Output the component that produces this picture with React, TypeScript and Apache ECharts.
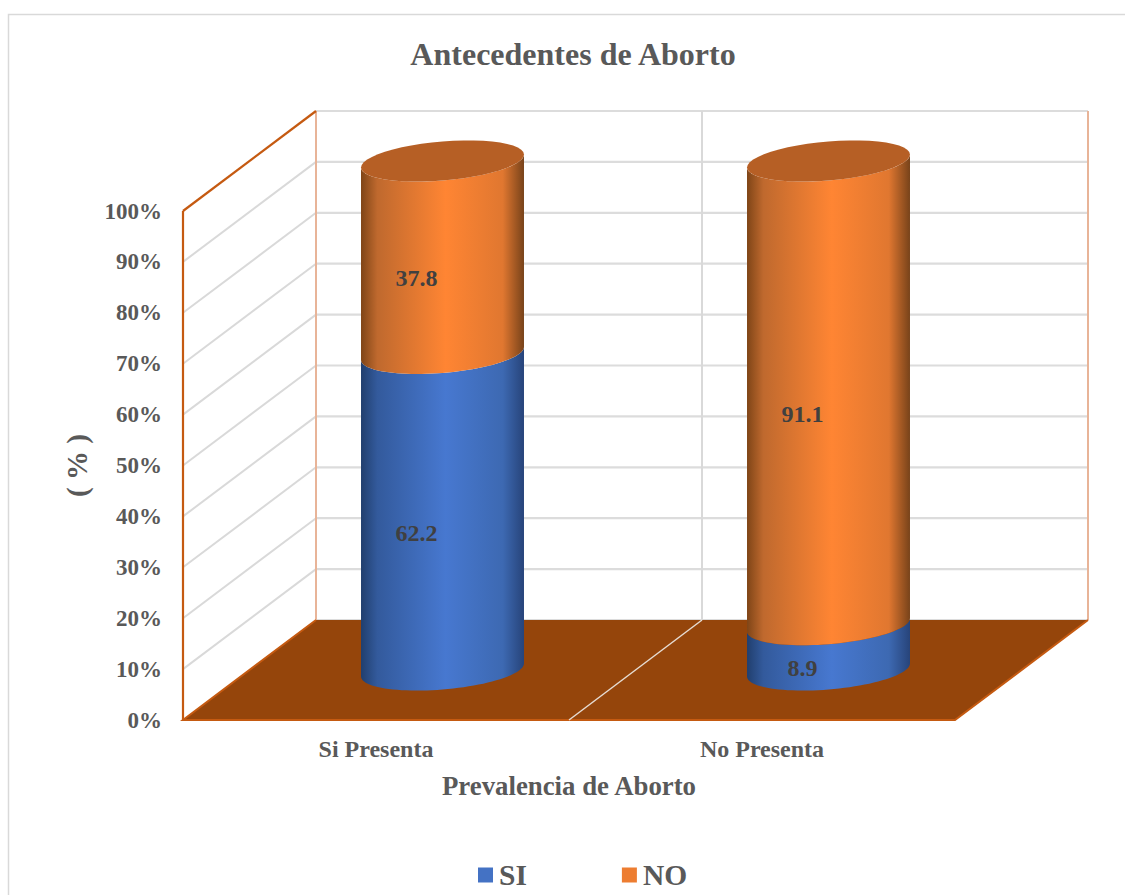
import React, { useEffect, useRef } from "react";
import * as echarts from "echarts";

const categories = ["Si Presenta", "No Presenta"];
const siValues = [62.2, 8.9];
const noValues = [37.8, 91.1];
const yTicks = [0, 10, 20, 30, 40, 50, 60, 70, 80, 90, 100];

const FONT = "Liberation Serif";
const TEXT = "#595959";
const DEPTH_X = 133;
const DEPTH_Y = -100;
const CYL_RATIO = 0.2111;
const RY = 19.5;
const SHEAR = 0.08;

const blueStops = [
  { offset: 0, color: "#213f6e" },
  { offset: 0.1, color: "#335a9c" },
  { offset: 0.52, color: "#4778d0" },
  { offset: 0.87, color: "#3d69b2" },
  { offset: 1, color: "#27447a" },
];
const orangeStops = [
  { offset: 0, color: "#7f4517" },
  { offset: 0.1, color: "#bf692e" },
  { offset: 0.52, color: "#ff8533" },
  { offset: 0.87, color: "#e07730" },
  { offset: 1, color: "#78431a" },
];

const hGrad = (stops: any[]) => new echarts.graphic.LinearGradient(0, 0, 1, 0, stops);

function arc(cx: number, cy: number, rx: number, from: number, to: number) {
  const pts: number[][] = [];
  const n = 48;
  for (let i = 0; i <= n; i++) {
    const t = from + ((to - from) * i) / n;
    pts.push([cx + rx * Math.cos(t), cy - rx * Math.cos(t) * SHEAR + RY * Math.sin(t)]);
  }
  return pts;
}

function segment(api: any, cat: number, lo: number, hi: number, value: number, stops: any[], topFace: boolean) {
  const bw = api.size([1, 0])[0];
  const rx = bw * CYL_RATIO;
  const pLo = api.coord([cat, lo]);
  const pHi = api.coord([cat, hi]);
  const cx = pLo[0] + DEPTH_X / 2;
  const yLo = pLo[1] + DEPTH_Y / 2;
  const yHi = pHi[1] + DEPTH_Y / 2;
  const body = [...arc(cx, yHi, rx, Math.PI, 0), ...arc(cx, yLo, rx, 0, Math.PI)];
  const children: any[] = [
    { type: "polygon", shape: { points: body }, style: { fill: hGrad(stops) } },
  ];
  if (topFace) {
    children.push({
      type: "polygon",
      shape: { points: arc(cx, yHi, rx, 0, Math.PI * 2) },
      style: { fill: "#b65f25" },
    });
  }
  children.push({
    type: "text",
    x: cx - 26,
    y: (yLo + yHi) / 2 + 21,
    z2: 10,
    style: {
      text: value.toFixed(1),
      align: "center",
      verticalAlign: "middle",
      fill: "#404040",
      fontFamily: FONT,
      fontWeight: "bold",
      fontSize: 24,
    },
  });
  return { type: "group", children };
}

function renderGrid(params: any, api: any) {
  const tick = api.value(1);
  const p = api.coord([0, tick]);
  const x0 = params.coordSys.x;
  const x1 = x0 + params.coordSys.width;
  const style = { stroke: "#dcdcdc", lineWidth: 2.2 };
  const children: any[] = [
    {
      type: "line",
      shape: { x1: x0 + DEPTH_X, y1: p[1] + DEPTH_Y, x2: x1 + DEPTH_X, y2: p[1] + DEPTH_Y },
      style,
    },
  ];
  if (tick > 0 && tick < 100) {
    children.push({
      type: "line",
      shape: { x1: x0, y1: p[1], x2: x0 + DEPTH_X, y2: p[1] + DEPTH_Y },
      style: { stroke: "#d9d9d9", lineWidth: 2 },
    });
  }
  return { type: "group", children };
}

function renderFrame(params: any, api: any) {
  const cs = params.coordSys;
  const x0 = cs.x;
  const x1 = cs.x + cs.width;
  const top = cs.y;
  const bot = cs.y + cs.height;
  const mid = (api.coord([0, 0])[0] + api.coord([1, 0])[0]) / 2;
  const edge = { stroke: "#c55a11", lineWidth: 2.2 };
  const soft = { stroke: "#e8b498", lineWidth: 2 };
  return {
    type: "group",
    children: [
      { type: "line", shape: { x1: mid + DEPTH_X, y1: top + DEPTH_Y, x2: mid + DEPTH_X, y2: bot + DEPTH_Y }, style: { stroke: "#d9d9d9", lineWidth: 2 } },
      { type: "line", shape: { x1: x0 + DEPTH_X, y1: top + DEPTH_Y, x2: x0 + DEPTH_X, y2: bot + DEPTH_Y }, style: soft },
      { type: "line", shape: { x1: x1 + DEPTH_X, y1: top + DEPTH_Y, x2: x1 + DEPTH_X, y2: bot + DEPTH_Y }, style: soft },
      {
        type: "polygon",
        shape: { points: [[x0, bot], [x0 + DEPTH_X, bot + DEPTH_Y], [x1 + DEPTH_X, bot + DEPTH_Y], [x1, bot]] },
        style: { fill: "#95450b" },
      },
      { type: "polyline", shape: { points: [[x0 + DEPTH_X, bot + DEPTH_Y], [x0, bot], [x1, bot], [x1 + DEPTH_X, bot + DEPTH_Y]] }, style: { stroke: "#c55a11", lineWidth: 2, fill: "none" } },
      { type: "line", shape: { x1: mid + DEPTH_X, y1: bot + DEPTH_Y, x2: mid, y2: bot }, style: { stroke: "#e6dcd3", lineWidth: 1.5 } },
      { type: "line", shape: { x1: x0, y1: top, x2: x0, y2: bot }, style: edge },
      { type: "line", shape: { x1: x0, y1: top, x2: x0 + DEPTH_X, y2: top + DEPTH_Y }, style: edge },
    ],
  };
}

export default function App() {
  const ref = useRef<HTMLDivElement>(null);
  useEffect(() => {
    document.body.style.margin = "0";
    const chart = echarts.init(ref.current!, null, { renderer: "svg" });
    chart.setOption({
      animation: false,
      backgroundColor: "#ffffff",
      textStyle: { fontFamily: FONT },
      graphic: [
        {
          type: "polyline",
          silent: true,
          z: -1,
          shape: { points: [[8.5, 900], [8.5, 14.5], [1130, 14.5]] },
          style: { stroke: "#d9d9d9", lineWidth: 1.5, fill: "none" },
        },
      ],
      title: {
        text: "Antecedentes de Aborto",
        left: 568,
        top: 33,
        textAlign: "center",
        textStyle: { color: TEXT, fontFamily: FONT, fontWeight: "bold", fontSize: 32 },
      },
      legend: {
        data: ["SI", "NO"],
        left: 473,
        top: 855,
        icon: "rect",
        itemWidth: 15,
        itemHeight: 15,
        itemGap: 95,
        textStyle: { color: TEXT, fontFamily: FONT, fontWeight: "bold", fontSize: 29.5, padding: [0, 0, 0, 1] },
      },
      grid: { left: 183, right: 170, top: 211, bottom: 175 },
      xAxis: {
        type: "category",
        data: categories,
        name: "Prevalencia de Aborto",
        nameLocation: "middle",
        nameGap: 52,
        nameTextStyle: { color: TEXT, fontFamily: FONT, fontWeight: "bold", fontSize: 26.8 },
        axisLine: { show: false },
        axisTick: { show: false },
        axisLabel: { color: TEXT, fontFamily: FONT, fontWeight: "bold", fontSize: 24, margin: 17 },
      },
      yAxis: {
        type: "value",
        min: 0,
        max: 100,
        interval: 10,
        name: "( % )",
        nameLocation: "middle",
        nameRotate: 90,
        nameGap: 92,
        nameTextStyle: { color: TEXT, fontFamily: FONT, fontWeight: "bold", fontSize: 29 },
        axisLine: { show: false },
        axisTick: { show: false },
        splitLine: { show: false },
        axisLabel: {
          color: TEXT,
          fontFamily: FONT,
          fontWeight: "bold",
          fontSize: 23,
          margin: 21,
          padding: [2, 0, 0, 0],
          formatter: "{value}%",
        },
      },
      series: [
        {
          type: "custom",
          name: "grid",
          silent: true,
          z: 1,
          data: yTicks.map((t) => [0, t]),
          renderItem: renderGrid,
        },
        {
          type: "custom",
          name: "frame",
          silent: true,
          z: 2,
          data: [[0, 0]],
          renderItem: renderFrame,
        },
        {
          type: "custom",
          name: "SI",
          silent: true,
          z: 3,
          itemStyle: { color: "#4472c4" },
          data: siValues.map((v, i) => [i, v]),
          renderItem: (_p: any, api: any) => {
            const cat = api.value(0);
            const v = api.value(1);
            return segment(api, cat, 0, v, v, blueStops, false);
          },
        },
        {
          type: "custom",
          name: "NO",
          silent: true,
          z: 4,
          itemStyle: { color: "#ed7d31" },
          data: noValues.map((v, i) => [i, v]),
          renderItem: (_p: any, api: any) => {
            const cat = api.value(0);
            const v = api.value(1);
            const base = siValues[cat];
            return segment(api, cat, base, base + v, v, orangeStops, true);
          },
        },
      ],
    });
    return () => chart.dispose();
  }, []);
  return <div ref={ref} style={{ width: 1125, height: 895 }} />;
}
